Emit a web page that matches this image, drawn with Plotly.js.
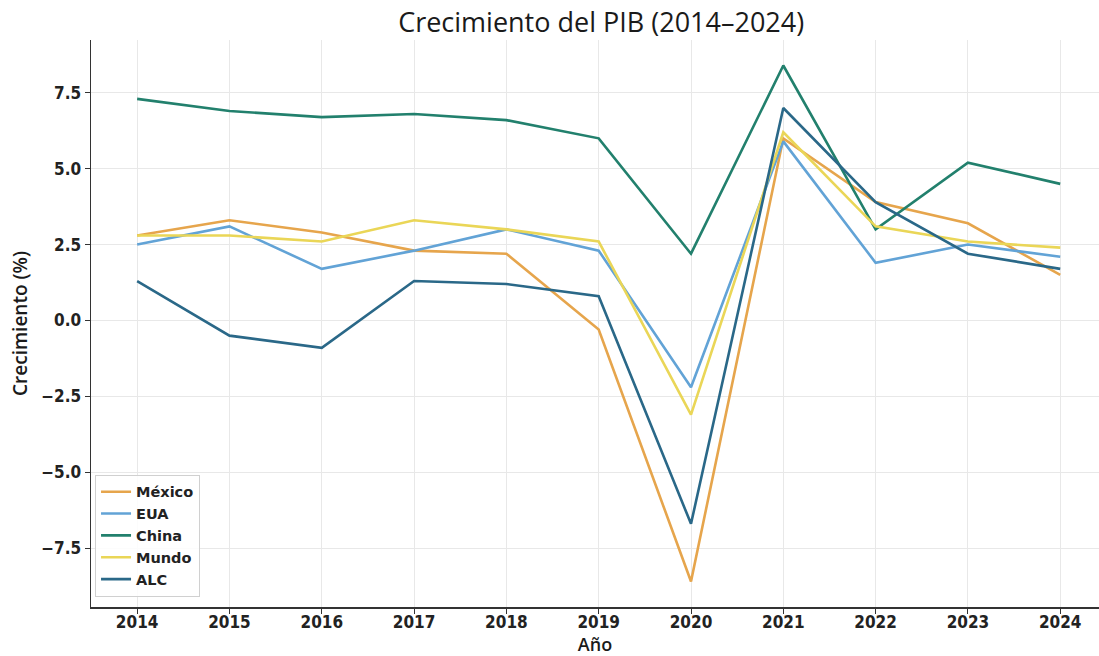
<!DOCTYPE html>
<html>
<head>
<meta charset="utf-8">
<script src="https://cdn.plot.ly/plotly-3.0.1.min.js"></script>
<style>html,body{margin:0;padding:0;background:#fff;}#chart{width:1099px;height:656px;}</style>
</head>
<body>
<div id="chart"></div>
<script>
const years = [2014, 2015, 2016, 2017, 2018, 2019, 2020, 2021, 2022, 2023, 2024];
const mexico = [2.8, 3.3, 2.9, 2.3, 2.2, -0.3, -8.6, 6.0, 3.9, 3.2, 1.5];
const eua    = [2.5, 3.1, 1.7, 2.3, 3.0, 2.3, -2.2, 5.9, 1.9, 2.5, 2.1];
const china  = [7.3, 6.9, 6.7, 6.8, 6.6, 6.0, 2.2, 8.4, 3.0, 5.2, 4.5];
const mundo  = [2.8, 2.8, 2.6, 3.3, 3.0, 2.6, -3.1, 6.2, 3.1, 2.6, 2.4];
const alc    = [1.3, -0.5, -0.9, 1.3, 1.2, 0.8, -6.7, 7.0, 3.9, 2.2, 1.7];
const seriesNames = ["México", "EUA", "China", "Mundo", "ALC"];
const yTicks = [-7.5, -5.0, -2.5, 0.0, 2.5, 5.0, 7.5];
const yTickLabels = ["\u22127.5", "\u22125.0", "\u22122.5", "0.0", "2.5", "5.0", "7.5"];

const colors = ["#e6a54c", "#62a3d6", "#22806d", "#ead657", "#2a6888"];
const data = [mexico, eua, china, mundo, alc].map((vals, i) => ({
  x: years, y: vals, name: seriesNames[i], type: "scatter", mode: "lines",
  line: {color: colors[i], width: 2.6}
}));

const tickFont = {family: "DejaVu Sans Condensed, DejaVu Sans", size: 17, color: "#222", weight: "bold"};
const layout = {
  width: 1099, height: 656,
  margin: {l: 91, r: 0, t: 40, b: 49},
  paper_bgcolor: "#fff", plot_bgcolor: "#fff",
  title: {text: "Crecimiento del PIB (2014\u20132024)", font: {family: "Open Sans", size: 27, color: "#1a1a1a"},
          xref: "container", x: 0.547, xanchor: "center", yref: "container", y: 0.966, yanchor: "middle"},
  xaxis: {range: [2013.5, 2024.42], tickmode: "array", tickvals: years, ticktext: years.map(String),
          tickfont: tickFont, showgrid: true, gridcolor: "#e8e8e8", gridwidth: 1,
          showline: true, linecolor: "#333", linewidth: 1.5, ticks: "outside", ticklen: 5, tickcolor: "#333",
          ticklabelstandoff: -6, zeroline: false,
          title: {text: "Año", font: {family: "Open Sans", size: 18, color: "#1a1a1a", weight: 600}, standoff: 2}},
  yaxis: {range: [-9.44, 9.24], tickmode: "array", tickvals: yTicks, ticktext: yTickLabels,
          tickfont: tickFont, showgrid: true, gridcolor: "#e8e8e8", gridwidth: 1,
          showline: true, linecolor: "#333", linewidth: 1.5, ticks: "outside", ticklen: 5, tickcolor: "#333",
          zeroline: false,
          title: {text: "Crecimiento (%)", font: {family: "Open Sans", size: 19, color: "#1a1a1a", weight: 600}, standoff: 8}},
  legend: {x: 0.004, y: 0.018, xanchor: "left", yanchor: "bottom", bgcolor: "rgba(255,255,255,0.85)",
           bordercolor: "#d0d0d0", borderwidth: 1, font: {family: "DejaVu Sans", size: 14.5, color: "#222", weight: "bold"},
           tracegroupgap: 0, itemwidth: 30},
  showlegend: true
};
Plotly.newPlot("chart", data, layout, {displayModeBar: false, staticPlot: true});
</script>
</body>
</html>
